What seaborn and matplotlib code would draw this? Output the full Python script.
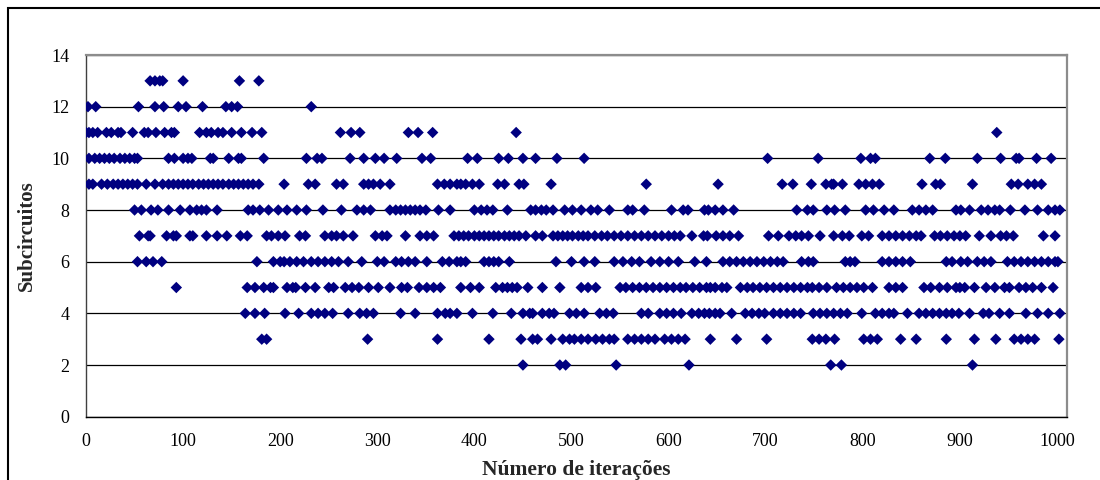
import pandas as pd
import matplotlib
matplotlib.use("Agg")
import matplotlib.pyplot as plt
import seaborn as sns
from matplotlib.patches import Rectangle

# -----------------------------
# Data: iterations (x) at which each subcircuit count (y) was observed
# -----------------------------
it_13 = [66, 71, 76, 79, 100, 158, 178]
it_12 = [2, 10, 54, 71, 80, 95, 103, 120, 144, 150, 156, 232]
it_11 = [0, 3, 7, 12, 21, 26, 33, 36, 48, 60, 64, 72, 81, 88, 91, 117, 124, 129,
         136, 141, 150, 160, 171, 181, 262, 273, 282, 332, 342, 357, 443, 938]
it_10 = [3, 9, 14, 19, 24, 29, 35, 40, 45, 50, 53, 85, 91, 100, 105, 109, 128, 131,
         147, 157, 160, 183, 227, 238, 243, 272, 286, 298, 307, 320, 346, 355, 393,
         403, 425, 435, 450, 463, 485, 513, 702, 754, 798, 808, 813, 869, 885, 918,
         942, 958, 961, 979, 994]
it_9 = [3, 7, 16, 22, 28, 33, 38, 43, 48, 53, 62, 71, 79, 85, 90, 95, 100, 105, 110,
        116, 121, 126, 131, 136, 141, 147, 152, 157, 162, 167, 172, 178, 204, 229,
        236, 258, 265, 286, 291, 296, 303, 313, 362, 369, 375, 382, 386, 391, 398,
        405, 424, 431, 446, 451, 479, 577, 651, 717, 728, 747, 762, 768, 770, 779,
        796, 803, 810, 817, 861, 875, 880, 913, 953, 960, 970, 977, 984]
it_8 = [50, 57, 67, 74, 85, 97, 107, 114, 119, 124, 135, 167, 172, 179, 188, 198,
        207, 217, 227, 244, 263, 279, 286, 293, 313, 319, 324, 329, 334, 339, 344,
        350, 363, 375, 400, 407, 413, 419, 434, 458, 463, 469, 474, 481, 493, 501,
        510, 520, 527, 539, 558, 563, 575, 603, 615, 620, 637, 641, 648, 656, 667,
        732, 743, 749, 763, 771, 782, 803, 811, 822, 832, 851, 858, 865, 872, 896,
        901, 910, 922, 929, 936, 941, 952, 967, 980, 991, 998, 1003]
it_7 = [55, 64, 66, 83, 90, 93, 107, 110, 124, 135, 145, 159, 166, 186, 191, 198,
        205, 220, 226, 246, 253, 258, 265, 275, 298, 305, 310, 329, 344, 351, 358,
        379, 384, 389, 394, 400, 405, 410, 415, 420, 425, 431, 436, 441, 446, 453,
        463, 470, 481, 486, 491, 496, 501, 507, 512, 517, 524, 531, 537, 544, 551,
        558, 565, 572, 579, 586, 593, 600, 606, 612, 624, 636, 640, 649, 656, 663,
        672, 703, 713, 724, 731, 737, 744, 756, 770, 779, 786, 799, 806, 820, 827,
        834, 841, 848, 855, 860, 874, 880, 887, 894, 900, 906, 920, 932, 942, 948,
        955, 986, 998]
it_6 = [53, 62, 69, 78, 176, 193, 200, 204, 210, 217, 224, 232, 239, 246, 253, 260,
        270, 284, 300, 307, 319, 325, 332, 339, 351, 367, 374, 382, 386, 391, 410,
        415, 420, 425, 436, 484, 500, 513, 524, 544, 553, 562, 570, 582, 591, 600,
        610, 627, 639, 656, 663, 670, 677, 684, 691, 698, 705, 712, 718, 737, 744,
        749, 782, 787, 792, 820, 827, 834, 841, 849, 886, 892, 901, 908, 918, 925,
        932, 949, 956, 963, 970, 977, 984, 991, 998, 1001]
it_5 = [93, 166, 174, 183, 190, 193, 207, 213, 216, 226, 236, 250, 255, 267, 274,
        281, 291, 301, 313, 325, 331, 343, 351, 358, 365, 386, 396, 405, 422, 429,
        434, 439, 444, 455, 470, 488, 510, 517, 525, 550, 556, 563, 570, 577, 584,
        591, 598, 605, 612, 618, 625, 632, 639, 643, 648, 655, 660, 674, 681, 687,
        694, 701, 708, 715, 722, 729, 736, 743, 748, 755, 763, 773, 780, 787, 794,
        801, 810, 827, 834, 841, 863, 870, 879, 887, 896, 900, 905, 915, 927, 936,
        946, 951, 961, 968, 975, 984, 996]
it_4 = [164, 174, 184, 205, 219, 232, 239, 246, 254, 270, 282, 289, 296, 324, 339,
        362, 370, 375, 382, 398, 419, 438, 450, 457, 460, 470, 477, 482, 498, 505,
        513, 529, 536, 543, 572, 579, 591, 598, 605, 613, 624, 631, 637, 642, 648,
        653, 665, 679, 686, 693, 699, 708, 715, 722, 729, 736, 749, 756, 763, 770,
        777, 784, 799, 813, 820, 827, 832, 846, 858, 865, 872, 879, 886, 892, 899,
        910, 924, 930, 941, 951, 968, 980, 991, 1003]
it_3 = [181, 186, 290, 362, 415, 448, 460, 465, 479, 491, 498, 503, 510, 517, 525,
        532, 539, 544, 558, 565, 572, 579, 586, 596, 603, 610, 617, 643, 670, 701,
        748, 755, 762, 771, 801, 808, 815, 839, 855, 886, 915, 937, 956, 963, 970,
        977, 1002]
it_2 = [450, 488, 494, 546, 621, 767, 778, 913]

levels = {13: it_13, 12: it_12, 11: it_11, 10: it_10, 9: it_9, 8: it_8,
          7: it_7, 6: it_6, 5: it_5, 4: it_4, 3: it_3, 2: it_2}

rows = [(x, y) for y, xs in levels.items() for x in xs]
df = pd.DataFrame(rows, columns=["iteracao", "subcircuitos"])

# -----------------------------
# Style
# -----------------------------
sns.set_style("white")
plt.rcParams["font.family"] = ["Liberation Serif", "DejaVu Serif"]

fig = plt.figure(figsize=(11, 4.8), dpi=100)
ax = fig.add_axes([0.0782, 0.1319, 0.8915, 0.7535])

# outer chart border (Excel style)
fig.patches.append(Rectangle((8 / 1100, -0.1), 1.2, 1 - 8 / 480 + 0.1,
                             transform=fig.transFigure, fill=False,
                             edgecolor="black", lw=1.5))

sns.scatterplot(data=df, x="iteracao", y="subcircuitos", marker="D", s=34,
                color="#000080", edgecolor="none", ax=ax, zorder=3)

ax.set_xlim(0, 1010)
ax.set_ylim(0, 14)
ax.set_xticks(range(0, 1001, 100))
ax.set_yticks(range(0, 15, 2))
ax.yaxis.grid(True, color="black", lw=0.9)
ax.xaxis.grid(False)
ax.set_axisbelow(True)

for side in ["top", "right"]:
    ax.spines[side].set_color("#8c8c8c")
    ax.spines[side].set_linewidth(1.6)
ax.spines["left"].set_color("#404040")
ax.spines["bottom"].set_color("black")
ax.spines["left"].set_linewidth(1.0)
ax.spines["bottom"].set_linewidth(1.0)

ax.tick_params(axis="both", direction="out", length=5, width=1,
               color="#404040", labelsize=13, labelcolor="black")
ax.tick_params(axis="y", pad=7)
ax.tick_params(axis="x", pad=7)

ax.set_xlabel("Número de iterações", fontsize=15.5, fontweight="bold", labelpad=7)
ax.set_ylabel("Subcircuitos", fontsize=15, fontweight="bold", labelpad=10)

plt.savefig("out.png", dpi=100)
